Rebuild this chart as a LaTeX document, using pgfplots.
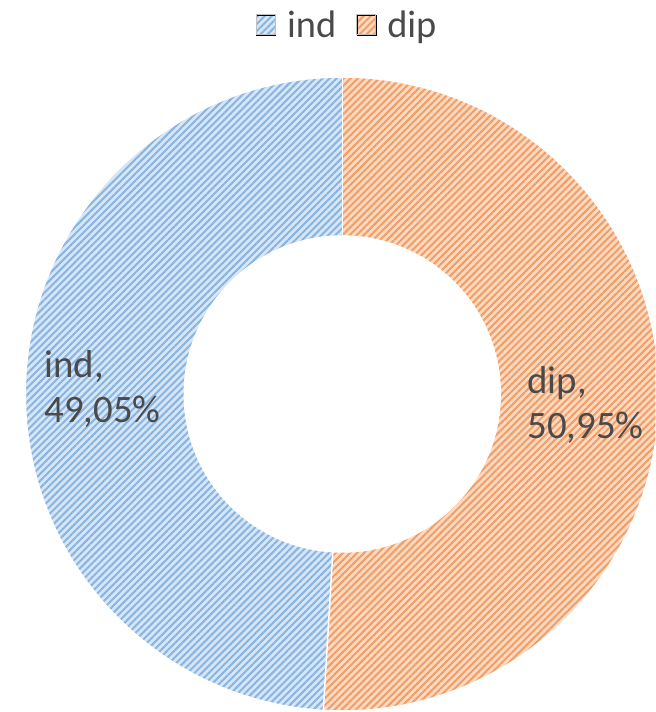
\documentclass[border=0pt]{standalone}
\usepackage{pgfplots}
\pgfplotsset{compat=1.18}
\usepackage{pgfplotstable}
\usepackage{fontspec}
\setmainfont{Carlito}
\usetikzlibrary{patterns.meta}
\definecolor{indbg}{HTML}{D6E6F6}
\definecolor{indline}{HTML}{88B4E2}
\definecolor{dipbg}{HTML}{FCDAC4}
\definecolor{dipline}{HTML}{F49D62}
\definecolor{txt}{HTML}{4A4A4A}
\pgfplotstableread{
label value
ind 49.05
dip 50.95
}\datatable
\begin{document}
\pgfplotstablegetelem{0}{value}\of\datatable \let\vind\pgfplotsretval
\pgfplotstablegetelem{1}{value}\of\datatable \let\vdip\pgfplotsretval
\pgfmathsetmacro\asplit{90-3.6*\vdip}
\begin{tikzpicture}
\begin{axis}[name=ax,width=653bp,height=712bp,scale only axis,
  xmin=0,xmax=653,ymin=0,ymax=712,hide axis,clip=true,
  legend columns=2,
  legend style={at={(axis cs:345,687)},anchor=center,draw=none,fill=none,
    font=\fontsize{38.5}{46}\selectfont,text=txt,
    /tikz/every odd column/.append style={column sep=9bp},
    /tikz/every even column/.append style={column sep=18bp}},
]
\addlegendimage{legend image code/.code={
  \fill[indbg] (0bp,-10bp) rectangle (19bp,10bp);
  \fill[pattern={Lines[angle=45,distance=5bp,line width=2bp]},pattern color=indline] (0bp,-10bp) rectangle (19bp,10bp);
  \draw[gray!50,line width=1bp] (0bp,-10bp) rectangle (19bp,10bp);}}
\addlegendentry{ind}
\addlegendimage{legend image code/.code={
  \fill[dipbg] (0bp,-10bp) rectangle (19bp,10bp);
  \fill[pattern={Lines[angle=45,distance=5bp,line width=2bp]},pattern color=dipline] (0bp,-10bp) rectangle (19bp,10bp);
  \draw[gray!50,line width=1bp] (0bp,-10bp) rectangle (19bp,10bp);}}
\addlegendentry{dip}
% ind sector
\fill[indbg] (axis cs:340,318) ++(90:317bp) arc[start angle=90,end angle=\asplit+360,radius=317bp]
  -- ([shift={(\asplit:158bp)}]axis cs:340,318) arc[start angle=\asplit+360,end angle=90,radius=158bp] -- cycle;
\fill[pattern={Lines[angle=45,distance=5bp,line width=2bp]},pattern color=indline] (axis cs:340,318) ++(90:317bp) arc[start angle=90,end angle=\asplit+360,radius=317bp]
  -- ([shift={(\asplit:158bp)}]axis cs:340,318) arc[start angle=\asplit+360,end angle=90,radius=158bp] -- cycle;
% dip sector
\fill[dipbg] (axis cs:340,318) ++(\asplit:317bp) arc[start angle=\asplit,end angle=90,radius=317bp]
  -- ([shift={(90:158bp)}]axis cs:340,318) arc[start angle=90,end angle=\asplit,radius=158bp] -- cycle;
\fill[pattern={Lines[angle=45,distance=5bp,line width=2bp]},pattern color=dipline] (axis cs:340,318) ++(\asplit:317bp) arc[start angle=\asplit,end angle=90,radius=317bp]
  -- ([shift={(90:158bp)}]axis cs:340,318) arc[start angle=90,end angle=\asplit,radius=158bp] -- cycle;
% separators
\draw[white,line width=1.5bp] (axis cs:340,318) circle[radius=317bp];
\draw[white,line width=1.5bp] (axis cs:340,318) circle[radius=158bp];
\draw[white,line width=1.5bp] ([shift={(90:158bp)}]axis cs:340,318) -- ([shift={(90:317bp)}]axis cs:340,318);
\draw[white,line width=1.5bp] ([shift={(\asplit:158bp)}]axis cs:340,318) -- ([shift={(\asplit:317bp)}]axis cs:340,318);
% labels
\node[anchor=base west,align=left,inner sep=0pt,text=txt,font=\fontsize{39}{46}\selectfont] at (axis cs:42,289) {ind,\\49,05\%};
\node[anchor=base west,align=left,inner sep=0pt,text=txt,font=\fontsize{39}{46}\selectfont] at (axis cs:525,273) {dip,\\50,95\%};
\end{axis}
\pgfresetboundingbox
\path (ax.south west) rectangle (ax.north east);
\end{tikzpicture}
\end{document}
